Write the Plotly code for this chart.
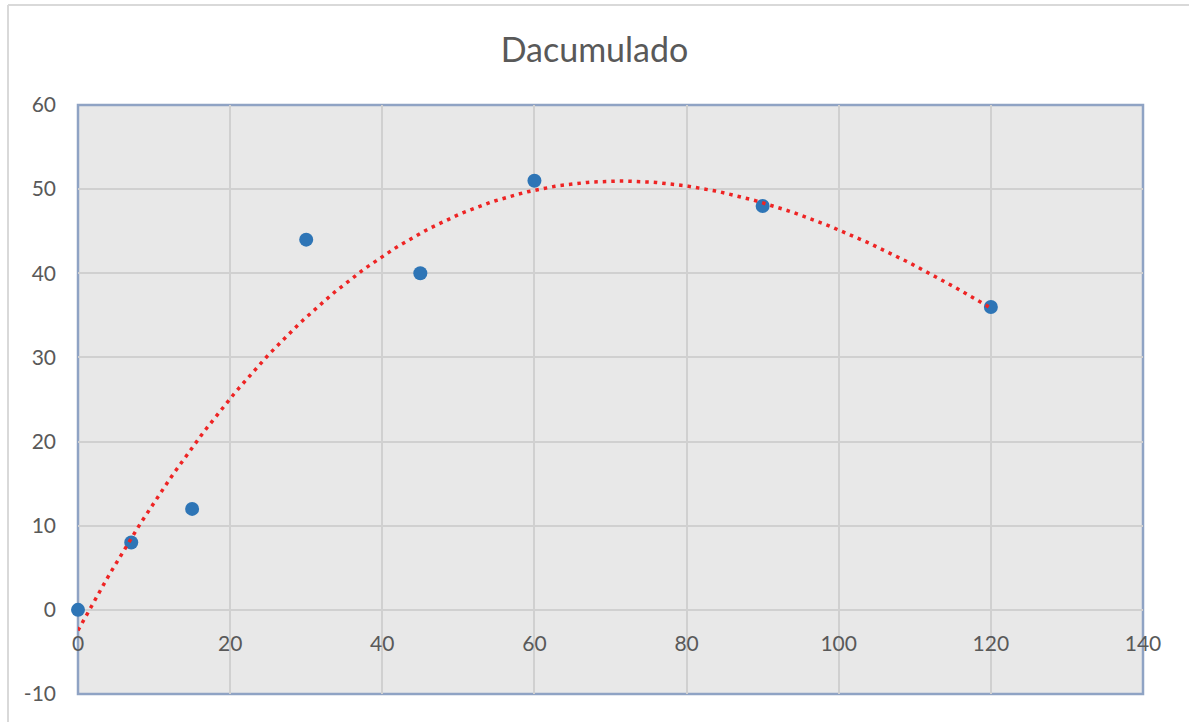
import numpy as np
import plotly.graph_objects as go

# Data
days = [0, 7, 15, 30, 45, 60, 90, 120]
d_acum = [0, 8, 12, 44, 40, 51, 48, 36]
title_text = "Dacumulado"
x_ticks = [0, 20, 40, 60, 80, 100, 120, 140]
y_ticks = [-10, 0, 10, 20, 30, 40, 50, 60]
y_tick_text = ["-10", "0", "10", "20", "30", "40", "50", "60"]

# Polynomial trendline computed from the data, as Excel does
coef = np.polyfit(days, d_acum, 3)
trend_x = np.linspace(min(days), max(days), 200)
trend_y = np.polyval(coef, trend_x)

fig = go.Figure()
fig.add_trace(go.Scatter(
    x=days, y=d_acum, mode="markers", cliponaxis=False,
    marker=dict(color="#2E75B6", size=14, line=dict(width=0)),
    showlegend=False, hoverinfo="x+y"))
fig.add_trace(go.Scatter(
    x=trend_x, y=trend_y, mode="lines", cliponaxis=False,
    line=dict(color="#EE2424", width=3.5, dash="3.5px,5px"),
    showlegend=False, hoverinfo="skip"))

W, H = 1189, 722
L, R, T, B = 78, 46, 105, 28
pw, ph = W - L - R, H - T - B

fig.update_layout(
    width=W, height=H,
    margin=dict(l=L, r=R, t=T, b=B),
    paper_bgcolor="white",
    plot_bgcolor="#E8E8E8",
    font=dict(family="Lato, 'Open Sans', sans-serif", color="#595959", size=21),
    title=dict(text=title_text, x=0.5, xanchor="center", y=1 - 50 / H, yanchor="middle",
               font=dict(size=34, color="#595959")),
    xaxis=dict(range=[0, 140], tickvals=x_ticks, showgrid=True, gridcolor="#D0D0D0",
               gridwidth=2, zeroline=False, showline=False, ticks="",
               anchor="free", position=10 / 70, ticklabelstandoff=19),
    yaxis=dict(range=[-10, 60], tickvals=y_ticks, ticktext=y_tick_text, showgrid=True,
               gridcolor="#D0D0D0", gridwidth=2, zeroline=False, showline=False,
               ticks="", ticklabelstandoff=21),
    shapes=[
        dict(type="rect", xref="paper", yref="paper", x0=0, x1=1, y0=0, y1=1,
             line=dict(color="#8FA3C4", width=2.5), layer="below"),
        dict(type="line", xref="paper", yref="paper",
             x0=(8 - L) / pw, x1=(8 - L) / pw, y0=(H - B - 5) / ph, y1=-0.2,
             line=dict(color="#D9D9D9", width=2)),
        dict(type="line", xref="paper", yref="paper",
             x0=(8 - L) / pw, x1=1.1, y0=(H - B - 5) / ph, y1=(H - B - 5) / ph,
             line=dict(color="#D9D9D9", width=2)),
    ],
)

fig.write_html("out.html", config={"displayModeBar": False},
               post_script="document.body.style.margin='0px';")
